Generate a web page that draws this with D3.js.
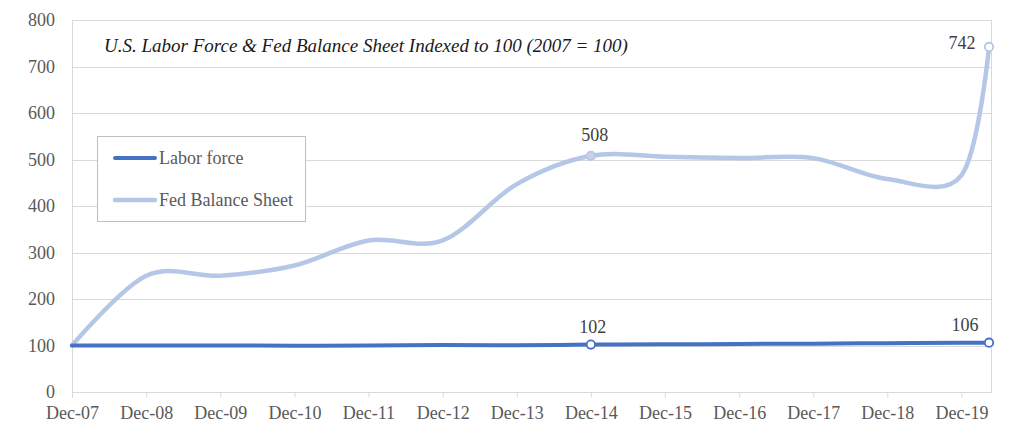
<!DOCTYPE html>
<html>
<head>
<meta charset="utf-8">
<script src="https://cdn.jsdelivr.net/npm/d3@7"></script>
<style>
  html, body { margin: 0; padding: 0; background: #fff; }
  svg { display: block; }
  text { font-family: "Liberation Serif", "DejaVu Serif", serif; }
</style>
</head>
<body>
<svg id="chart" width="1024" height="439"></svg>
<script>
// ---- data ----
const dates = ["2007-12-01","2008-12-01","2009-12-01","2010-12-01","2011-12-01","2012-12-01",
               "2013-12-01","2014-12-01","2015-12-01","2016-12-01","2017-12-01","2018-12-01",
               "2019-12-01","2020-04-15"];
const laborForce      = [100, 100, 99.8, 99.7, 99.9, 101, 100.3, 102, 102.6, 103.3, 104, 105, 106, 106];
const fedBalanceSheet = [100, 250, 250, 272, 326, 326, 447, 508, 506, 503, 503, 458, 466, 742];
const yTicks = [0, 100, 200, 300, 400, 500, 600, 700, 800];
const xTickDates = dates.slice(0, 13);
const labeledIdx = [7, 13];
const seriesNames = ["Labor force", "Fed Balance Sheet"];
const chartTitle = "U.S. Labor Force & Fed Balance Sheet Indexed to 100 (2007 = 100)";

// ---- setup ----
const parse = d3.timeParse("%Y-%m-%d");
const fmt = d3.timeFormat("%b-%y");
const svg = d3.select("#chart");
const pLeft = 72, pRight = 989, pTop = 20, pBottom = 392, frameRight = 991;

const x = d3.scaleTime().domain([parse(dates[0]), parse(dates[dates.length-1])]).range([pLeft, pRight]);
const y = d3.scaleLinear().domain([0, 800]).range([pBottom, pTop]);

const gridColor = "#d9d9d9";
const textColor = "#595959";
const laborColor = "#4472c4";
const fedColor = "#b4c7e7";

// gridlines
svg.append("g").selectAll("line").data(yTicks).join("line")
  .attr("x1", pLeft).attr("x2", frameRight)
  .attr("y1", d => Math.round(y(d)) + 0.5).attr("y2", d => Math.round(y(d)) + 0.5)
  .attr("stroke", gridColor).attr("stroke-width", 1);

// frame left/right
svg.append("line").attr("x1", pLeft + 0.5).attr("x2", pLeft + 0.5).attr("y1", pTop).attr("y2", pBottom + 6)
  .attr("stroke", gridColor);
svg.append("line").attr("x1", frameRight + 0.5).attr("x2", frameRight + 0.5).attr("y1", pTop).attr("y2", pBottom + 1)
  .attr("stroke", gridColor);

// y axis labels
const yAxis = d3.axisLeft(y).tickValues(yTicks).tickSize(0).tickPadding(17);
const gy = svg.append("g").attr("transform", `translate(${pLeft},0)`).call(yAxis);
gy.select(".domain").remove();
gy.selectAll("text").attr("fill", textColor).style("font-size", "18px")
  .style("font-family", "'Liberation Serif', serif");

// x axis
const xAxis = d3.axisBottom(x).tickValues(xTickDates.map(parse)).tickFormat(fmt)
  .tickSize(5).tickPadding(9);
const gx = svg.append("g").attr("transform", `translate(0,${pBottom + 0.5})`).call(xAxis);
gx.select(".domain").attr("stroke", gridColor).attr("d", `M${pLeft},0H${frameRight}`);
gx.selectAll(".tick line").attr("stroke", gridColor);
gx.selectAll("text").attr("fill", textColor).style("font-size", "18px")
  .style("font-family", "'Liberation Serif', serif");

// lines
const curve = d3.curveCardinal.tension(0);
function series(vals) { return vals.map((v, i) => ({ d: parse(dates[i]), v })); }
const line = d3.line().x(p => x(p.d)).y(p => y(p.v)).curve(curve);

svg.append("path").datum(series(fedBalanceSheet)).attr("d", line)
  .attr("fill", "none").attr("stroke", fedColor).attr("stroke-width", 4.5)
  .attr("stroke-linecap", "round").attr("stroke-linejoin", "round");
svg.append("path").datum(series(laborForce)).attr("d", line)
  .attr("fill", "none").attr("stroke", laborColor).attr("stroke-width", 4)
  .attr("stroke-linecap", "round").attr("stroke-linejoin", "round");

// markers
const fedMarkerFill = ["#c9d3e3", "#ffffff"];
labeledIdx.forEach((i, k) => {
  svg.append("circle").attr("cx", x(parse(dates[i]))).attr("cy", y(fedBalanceSheet[i])).attr("r", 4.2)
    .attr("fill", fedMarkerFill[k]).attr("stroke", fedColor).attr("stroke-width", 1.8);
  svg.append("circle").attr("cx", x(parse(dates[i]))).attr("cy", y(laborForce[i])).attr("r", 4.2)
    .attr("fill", "#fff").attr("stroke", laborColor).attr("stroke-width", 1.8);
});

// data labels
const labelColor = "#404040";
function dataLabel(i, vals, dx, dy) {
  svg.append("text").attr("x", x(parse(dates[i])) + dx).attr("y", y(vals[i]) + dy)
    .attr("text-anchor", "middle").attr("fill", labelColor).style("font-size", "18px")
    .text(Math.round(vals[i]));
}
dataLabel(7, fedBalanceSheet, 4, -15);
dataLabel(13, fedBalanceSheet, -27, 2);
dataLabel(7, laborForce, 2, -12);
dataLabel(13, laborForce, -24, -12);

// title
svg.append("text").attr("x", 104).attr("y", 52).attr("fill", "#1a1a1a")
  .style("font-size", "19px").style("font-style", "italic").text(chartTitle);

// legend
svg.append("rect").attr("x", 97.5).attr("y", 136.5).attr("width", 208).attr("height", 85)
  .attr("fill", "#fff").attr("stroke", "#bfbfbf").attr("stroke-width", 1);
const legColors = [laborColor, fedColor];
const legY = [158, 200];
seriesNames.forEach((name, i) => {
  svg.append("line").attr("x1", 115).attr("x2", 155).attr("y1", legY[i]).attr("y2", legY[i])
    .attr("stroke", legColors[i]).attr("stroke-width", i === 0 ? 4 : 4.5).attr("stroke-linecap", "round");
  svg.append("text").attr("x", 159).attr("y", legY[i]).attr("dy", "0.35em")
    .attr("fill", textColor).style("font-size", "18px").text(name);
});
</script>
</body>
</html>
